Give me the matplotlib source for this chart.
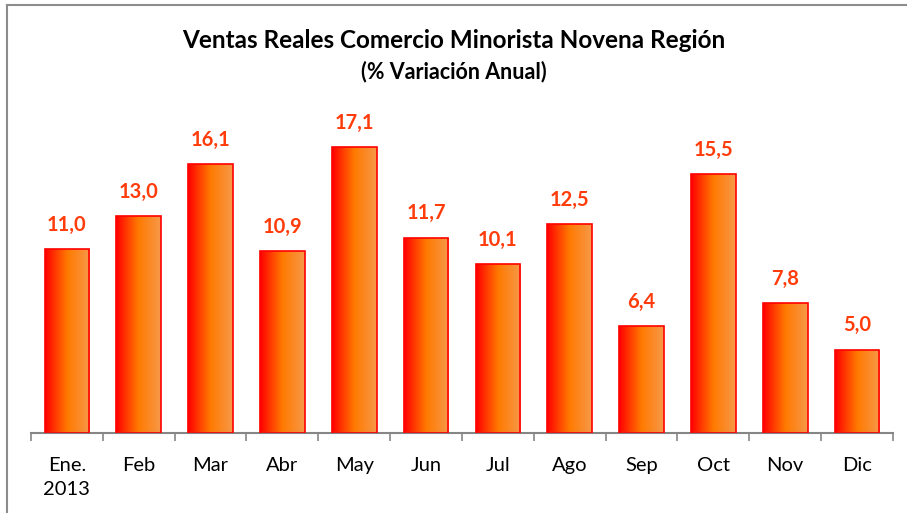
import numpy as np
import matplotlib.pyplot as plt
from matplotlib.colors import LinearSegmentedColormap
from matplotlib.lines import Line2D

months = ['Ene.\n2013', 'Feb', 'Mar', 'Abr', 'May', 'Jun',
          'Jul', 'Ago', 'Sep', 'Oct', 'Nov', 'Dic']
values = [11.0, 13.0, 16.1, 10.9, 17.1, 11.7, 10.1, 12.5, 6.4, 15.5, 7.8, 5.0]

plt.rcParams['font.family'] = ['Lato', 'DejaVu Sans']

fig = plt.figure(figsize=(9.07, 5.13), dpi=100)
ax = fig.add_axes([31 / 907, 1 - 433 / 513, 862 / 907, 334 / 513])

# frame of the chart area (left and top only are visible)
fig.add_artist(Line2D([7 / 907, 7 / 907], [0, 1 - 5 / 513], color='#8c8c8c', lw=1.5))
fig.add_artist(Line2D([7 / 907, 1], [1 - 5 / 513, 1 - 5 / 513], color='#8c8c8c', lw=1.5))

grad = LinearSegmentedColormap.from_list('bar', ['#ff0000', '#ff7a00', '#f7984a'])
gimg = np.linspace(0, 1, 256).reshape(1, -1)

x = np.arange(len(months))
width = 0.62
bars = ax.bar(x, values, width=width, color='none', edgecolor='#ff0000', lw=1.2, zorder=3)
for b, v in zip(bars, values):
    x0 = b.get_x()
    im = ax.imshow(gimg, cmap=grad, aspect='auto', extent=[x0, x0 + width, 0, v],
                   interpolation='bicubic', zorder=2)
    im.set_clip_path(b)
    ax.text(b.get_x() + width / 2, v + 0.85, f'{v:.1f}'.replace('.', ','),
            ha='center', va='bottom', fontsize=14.5, fontweight='bold', color='#ff3c0a')

ax.set_xlim(-0.5, len(months) - 0.5)
ax.set_ylim(0, 20)
ax.set_yticks([])
for s in ['left', 'right', 'top']:
    ax.spines[s].set_visible(False)
ax.spines['bottom'].set_color('#868686')
ax.spines['bottom'].set_linewidth(1.5)

ax.set_xticks(np.arange(-0.5, len(months), 1))
ax.set_xticklabels([])
ax.tick_params(axis='x', length=6, width=1.2, color='#868686')
ax.set_xticks(x, minor=True)
ax.set_xticklabels(months, minor=True, fontsize=14.5, linespacing=1.5, va='top')
ax.tick_params(axis='x', which='minor', length=0, pad=17)

fig.text(0.5, 1 - 40 / 513, 'Ventas Reales Comercio Minorista Novena Región',
         ha='center', va='center', fontsize=17.5, fontweight='bold')
fig.text(0.5, 1 - 72 / 513, '(% Variación Anual)',
         ha='center', va='center', fontsize=15.5, fontweight='bold')

fig.savefig('out.png', dpi=100)
